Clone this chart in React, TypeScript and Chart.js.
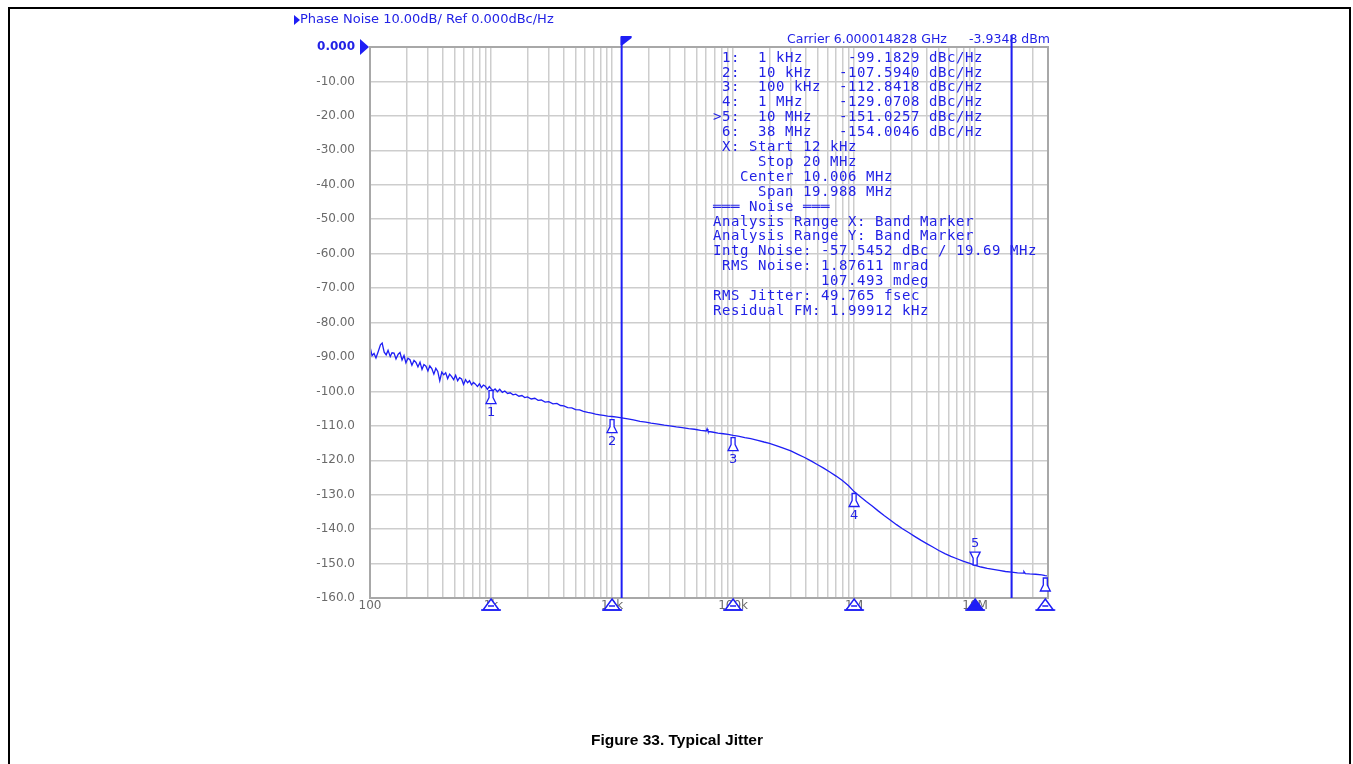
import React, { useEffect, useRef } from "react";
import { Chart, registerables } from "chart.js";

Chart.register(...registerables);

// ---------- data ----------
const curveFreqHz: number[] = [
  100, 104, 108, 112, 117, 122, 126, 131, 136, 141, 147, 152, 158, 164, 171, 177, 184, 191, 198, 206,
  214, 222, 231, 240, 249, 259, 269, 279, 290, 301, 312, 324, 337, 350, 363, 377, 392, 407, 422, 438,
  455, 473, 491, 510, 530, 550, 571, 593, 616, 640, 664, 690, 716, 744, 772, 802, 833, 865, 898, 933,
  968, 1000,
  1040, 1080, 1130, 1180, 1240, 1300, 1370, 1440, 1520, 1600, 1700, 1800, 1900, 2000, 2150, 2300, 2450,
  2600, 2800, 3000, 3250, 3500, 3750, 4000, 4300, 4650, 5000, 5400, 5800, 6300, 6800, 7300, 7900, 8500,
  9200, 10000, 11000, 12000, 13500, 15000, 17000, 19000, 21000, 24000, 27000, 30000, 34000, 38000,
  43000, 48000, 54000, 60000, 61000, 62000, 67000, 75000, 83000, 91000, 100000,
  110000, 125000, 140000, 160000, 180000, 200000, 230000, 260000, 300000, 340000, 390000, 440000,
  500000, 560000, 630000, 710000, 800000, 900000, 1000000, 1120000, 1260000, 1410000, 1580000,
  1780000, 2000000, 2240000, 2510000, 2820000, 3160000, 3550000, 3980000, 4470000, 5010000, 5620000,
  6310000, 7080000, 7940000, 8910000, 10000000, 11200000, 12600000, 14100000, 15800000, 17800000,
  20000000, 22400000, 25000000, 25300000, 26000000, 28200000, 31600000, 35500000, 38000000, 40000000,
];

const curvePhaseNoiseDbc: number[] = [
  -87.0, -89.6, -89.0, -90.3, -88.4, -86.5, -86.0, -88.6, -89.4, -88.1, -89.9, -88.8, -88.9, -90.6, -89.2, -88.7, -90.9, -89.6, -91.7, -90.4,
  -90.8, -92.4, -91.0, -91.6, -92.9, -91.5, -93.6, -92.2, -92.7, -94.1, -92.6, -93.4, -95.0, -93.3, -94.2, -96.9, -94.4, -95.2, -94.6, -96.3,
  -95.0, -95.7, -96.6, -95.3, -96.9, -96.0, -96.4, -98.0, -96.6, -97.5, -96.9, -98.1, -97.4, -97.9, -98.6, -97.8, -98.9, -98.2, -98.5, -99.4,
  -98.6, -99.2,
  -99.8, -99.3, -100.1, -99.4, -100.3, -99.9, -100.6, -100.4, -101.0, -100.8, -101.4, -101.2, -101.8, -101.6, -102.2, -102.0, -102.6,
  -102.5, -103.1, -103.0, -103.6, -103.5, -104.1, -104.2, -104.7, -104.8, -105.3, -105.4, -105.8, -106.1, -106.3, -106.6, -106.8, -107.0,
  -107.2, -107.3, -107.5, -107.7, -108.0, -108.3, -108.7, -108.9, -109.2, -109.5, -109.8, -110.0, -110.3, -110.5,
  -110.8, -111.0, -111.3, -111.5, -110.9, -111.6, -111.8, -112.1, -112.3, -112.5, -112.8,
  -113.0, -113.4, -113.7, -114.2, -114.7, -115.1, -115.8, -116.5, -117.3, -118.2, -119.2, -120.2,
  -121.3, -122.3, -123.4, -124.6, -125.9, -127.4, -129.1, -130.5, -132.0, -133.3, -134.7,
  -136.1, -137.4, -138.7, -139.9, -141.0, -142.1, -143.2, -144.2, -145.2, -146.2, -147.1,
  -147.9, -148.6, -149.3, -149.9, -150.5, -151.0, -151.4, -151.7, -152.0, -152.3,
  -152.5, -152.7, -152.8, -152.3, -152.9, -153.0, -153.1, -153.3, -153.5, -153.6,
];

const markerFreqHz: number[] = [1000, 10000, 100000, 1000000, 10000000, 38000000];
const markerPhaseNoiseDbc: number[] = [-99.1829, -107.594, -112.8418, -129.0708, -151.0257, -154.0046];
const markerLabels: string[] = ["1", "2", "3", "4", "5", "6"];
const activeMarker = "5";

const bandStartHz = 12000;
const bandStopHz = 20000000;

const xMinHz = 100;
const xMaxHz = 40000000;
const yMinDb = -160;
const yMaxDb = 0;

const gridDecadesHz: number[] = [100, 1000, 10000, 100000, 1000000, 10000000];
const gridMultipliers: number[] = [1, 2, 3, 4, 5, 6, 7, 8, 9];

const xTickValues: number[] = [100, 1000, 10000, 100000, 1000000, 10000000];
const xTickLabels: string[] = ["100", "1k", "10k", "100k", "1M", "10M"];

const yTickValues: number[] = [0, -10, -20, -30, -40, -50, -60, -70, -80, -90, -100, -110, -120, -130, -140, -150, -160];
const yTickLabels: string[] = [
  "0.000", "-10.00", "-20.00", "-30.00", "-40.00", "-50.00", "-60.00", "-70.00", "-80.00", "-90.00",
  "-100.0", "-110.0", "-120.0", "-130.0", "-140.0", "-150.0", "-160.0",
];

const headerText = "Phase Noise 10.00dB/ Ref 0.000dBc/Hz";
const carrierText = "Carrier 6.000014828 GHz";
const powerText = "-3.9348 dBm";

const markerTableLines: string[] = [
  " 1:  1 kHz     -99.1829 dBc/Hz",
  " 2:  10 kHz   -107.5940 dBc/Hz",
  " 3:  100 kHz  -112.8418 dBc/Hz",
  " 4:  1 MHz    -129.0708 dBc/Hz",
  ">5:  10 MHz   -151.0257 dBc/Hz",
  " 6:  38 MHz   -154.0046 dBc/Hz",
  " X: Start 12 kHz",
  "     Stop 20 MHz",
  "   Center 10.006 MHz",
  "     Span 19.988 MHz",
  "═══ Noise ═══",
  "Analysis Range X: Band Marker",
  "Analysis Range Y: Band Marker",
  "Intg Noise: -57.5452 dBc / 19.69 MHz",
  " RMS Noise: 1.87611 mrad",
  "            107.493 mdeg",
  "RMS Jitter: 49.765 fsec",
  "Residual FM: 1.99912 kHz",
];

const captionText = "Figure 33. Typical Jitter";

// ---------- styles ----------
const BLUE = "#1e1ef5";
const TEXT_BLUE = "#2222e6";
const GRID = "#cdcdcd";
const AXIS_GRAY = "#a8a8a8";
const LABEL_GRAY = "#6a6a6a";

const W = 1353;
const H = 764;

function drawMarkerShape(ctx: CanvasRenderingContext2D, x: number, y: number, dir: number) {
  // dir = 1: below the point; dir = -1: above the point
  ctx.beginPath();
  ctx.moveTo(x - 2, y + dir * 2);
  ctx.lineTo(x + 2, y + dir * 2);
  ctx.lineTo(x + 2, y + dir * 9);
  ctx.lineTo(x + 5, y + dir * 15);
  ctx.lineTo(x - 5, y + dir * 15);
  ctx.lineTo(x - 2, y + dir * 9);
  ctx.closePath();
  ctx.fillStyle = "#ffffff";
  ctx.fill();
  ctx.strokeStyle = BLUE;
  ctx.lineWidth = 1.3;
  ctx.stroke();
}

const overlayPlugin = {
  id: "overlay",
  afterDatasetsDraw(chart: any) {
    const ctx: CanvasRenderingContext2D = chart.ctx;
    const xs = chart.scales.x;
    const ys = chart.scales.y;
    const area = chart.chartArea;
    ctx.save();

    // plot frame
    ctx.strokeStyle = AXIS_GRAY;
    ctx.lineWidth = 2;
    ctx.strokeRect(area.left, area.top, area.right - area.left, area.bottom - area.top);

    // band marker lines
    const xStart = xs.getPixelForValue(bandStartHz);
    const xStop = xs.getPixelForValue(bandStopHz);
    ctx.strokeStyle = BLUE;
    ctx.lineWidth = 2;
    ctx.beginPath();
    ctx.moveTo(xStart, area.top - 10);
    ctx.lineTo(xStart, area.bottom);
    ctx.moveTo(xStop, area.top - 12);
    ctx.lineTo(xStop, area.bottom);
    ctx.stroke();
    // flag on start line
    ctx.fillStyle = BLUE;
    ctx.beginPath();
    ctx.moveTo(xStart - 1, area.top - 11);
    ctx.lineTo(xStart + 10, area.top - 11);
    ctx.lineTo(xStart + 10, area.top - 9);
    ctx.lineTo(xStart + 1, area.top - 2);
    ctx.lineTo(xStart - 1, area.top - 2);
    ctx.closePath();
    ctx.fill();

    // markers on trace
    ctx.font = "13px 'DejaVu Sans'";
    ctx.textAlign = "center";
    ctx.textBaseline = "middle";
    markerFreqHz.forEach((f, i) => {
      const x = xs.getPixelForValue(f);
      const y = ys.getPixelForValue(markerPhaseNoiseDbc[i]);
      const lbl = markerLabels[i];
      if (lbl === activeMarker) {
        drawMarkerShape(ctx, x, y, -1);
        ctx.fillStyle = TEXT_BLUE;
        ctx.fillText(lbl, x, y - 23);
      } else {
        const yy = Math.min(y, area.bottom - 22);
        drawMarkerShape(ctx, x, yy, 1);
        if (x < area.right - 5) {
          ctx.fillStyle = TEXT_BLUE;
          ctx.fillText(lbl, x, yy + 24);
        }
      }
    });

    // x tick labels
    ctx.font = "12px 'DejaVu Sans'";
    ctx.fillStyle = LABEL_GRAY;
    ctx.textAlign = "center";
    ctx.textBaseline = "middle";
    xTickValues.forEach((v, i) => {
      ctx.fillText(xTickLabels[i], xs.getPixelForValue(v), area.bottom + 8);
    });

    // bottom axis marker triangles
    markerFreqHz.forEach((f, i) => {
      const x = xs.getPixelForValue(f);
      const top = area.bottom + 1;
      const base = area.bottom + 12;
      ctx.beginPath();
      ctx.moveTo(x, top);
      ctx.lineTo(x + 8, base);
      ctx.lineTo(x - 8, base);
      ctx.closePath();
      ctx.fillStyle = markerLabels[i] === activeMarker ? BLUE : "#ffffff";
      ctx.fill();
      ctx.strokeStyle = BLUE;
      ctx.lineWidth = 1.5;
      ctx.stroke();
      ctx.beginPath();
      ctx.moveTo(x - 10, base);
      ctx.lineTo(x + 10, base);
      ctx.moveTo(x - 3, base - 4);
      ctx.lineTo(x + 3, base - 4);
      ctx.stroke();
    });

    // y tick labels
    ctx.textAlign = "right";
    ctx.textBaseline = "middle";
    yTickValues.forEach((v, i) => {
      const y = ys.getPixelForValue(v);
      if (i === 0) {
        ctx.font = "bold 12px 'DejaVu Sans'";
        ctx.fillStyle = TEXT_BLUE;
      } else {
        ctx.font = "12px 'DejaVu Sans'";
        ctx.fillStyle = LABEL_GRAY;
      }
      ctx.fillText(yTickLabels[i], area.left - 15, y);
    });
    // reference level arrow
    const yRef = ys.getPixelForValue(0);
    ctx.fillStyle = BLUE;
    ctx.beginPath();
    ctx.moveTo(area.left - 10, yRef - 8);
    ctx.lineTo(area.left - 1, yRef);
    ctx.lineTo(area.left - 10, yRef + 8);
    ctx.closePath();
    ctx.fill();

    // header
    ctx.fillStyle = BLUE;
    ctx.beginPath();
    ctx.moveTo(294, 15);
    ctx.lineTo(300, 20);
    ctx.lineTo(294, 25);
    ctx.closePath();
    ctx.fill();
    ctx.font = "13px 'DejaVu Sans'";
    ctx.fillStyle = TEXT_BLUE;
    ctx.textAlign = "left";
    ctx.fillText(headerText, 300, 20);

    // carrier / power
    ctx.font = "12.5px 'DejaVu Sans'";
    ctx.fillText(carrierText, 787, 40);
    ctx.textAlign = "right";
    ctx.fillText(powerText, 1050, 40);

    // marker table (monospace grid)
    ctx.font = "14px 'DejaVu Sans Mono'";
    ctx.textAlign = "left";
    ctx.fillStyle = TEXT_BLUE;
    markerTableLines.forEach((line, li) => {
      const y = 58 + li * 14.9;
      for (let c = 0; c < line.length; c++) {
        const ch = line[c];
        if (ch !== " ") ctx.fillText(ch, 713 + c * 9, y);
      }
    });

    // caption
    ctx.font = "bold 15.5px 'Liberation Sans'";
    ctx.fillStyle = "#000000";
    ctx.textAlign = "center";
    ctx.fillText(captionText, 677, 741);

    // page frame
    ctx.strokeStyle = "#000000";
    ctx.lineWidth = 2;
    ctx.beginPath();
    ctx.moveTo(9, H + 5);
    ctx.lineTo(9, 8);
    ctx.lineTo(1350, 8);
    ctx.lineTo(1350, H + 5);
    ctx.stroke();

    ctx.restore();
  },
};

export default function App() {
  const canvasRef = useRef<HTMLCanvasElement | null>(null);

  useEffect(() => {
    const canvas = canvasRef.current;
    if (!canvas) return;
    const gridValues: number[] = [];
    gridDecadesHz.forEach((d) =>
      gridMultipliers.forEach((m) => {
        const v = d * m;
        if (v >= xMinHz && v < xMaxHz) gridValues.push(v);
      })
    );
    const points = curveFreqHz.map((f, i) => ({ x: f, y: curvePhaseNoiseDbc[i] }));

    const chart = new Chart(canvas, {
      type: "line",
      data: {
        datasets: [
          {
            data: points,
            borderColor: BLUE,
            borderWidth: 1.3,
            pointRadius: 0,
            tension: 0,
            fill: false,
          },
        ],
      },
      options: {
        animation: false,
        responsive: false,
        devicePixelRatio: 1,
        layout: { padding: { left: 370, right: W - 1048, top: 47, bottom: H - 598 } },
        plugins: { legend: { display: false }, tooltip: { enabled: false } },
        scales: {
          x: {
            type: "logarithmic",
            min: xMinHz,
            max: xMaxHz,
            border: { display: false },
            grid: { color: GRID, lineWidth: 1.5, drawTicks: false },
            ticks: { display: false, autoSkip: false },
            afterBuildTicks: (scale: any) => {
              scale.ticks = gridValues.map((v) => ({ value: v }));
            },
            afterFit: (scale: any) => {
              scale.height = 0;
            },
          },
          y: {
            type: "linear",
            min: yMinDb,
            max: yMaxDb,
            border: { display: false },
            grid: { color: GRID, lineWidth: 1.5, drawTicks: false },
            ticks: { display: false, stepSize: 10 },
            afterFit: (scale: any) => {
              scale.width = 0;
            },
          },
        },
      } as any,
      plugins: [overlayPlugin],
    });
    return () => chart.destroy();
  }, []);

  return (
    <div style={{ position: "fixed", left: 0, top: 0, width: W, height: H, background: "#ffffff" }}>
      <canvas ref={canvasRef} width={W} height={H} style={{ display: "block" }} />
    </div>
  );
}
